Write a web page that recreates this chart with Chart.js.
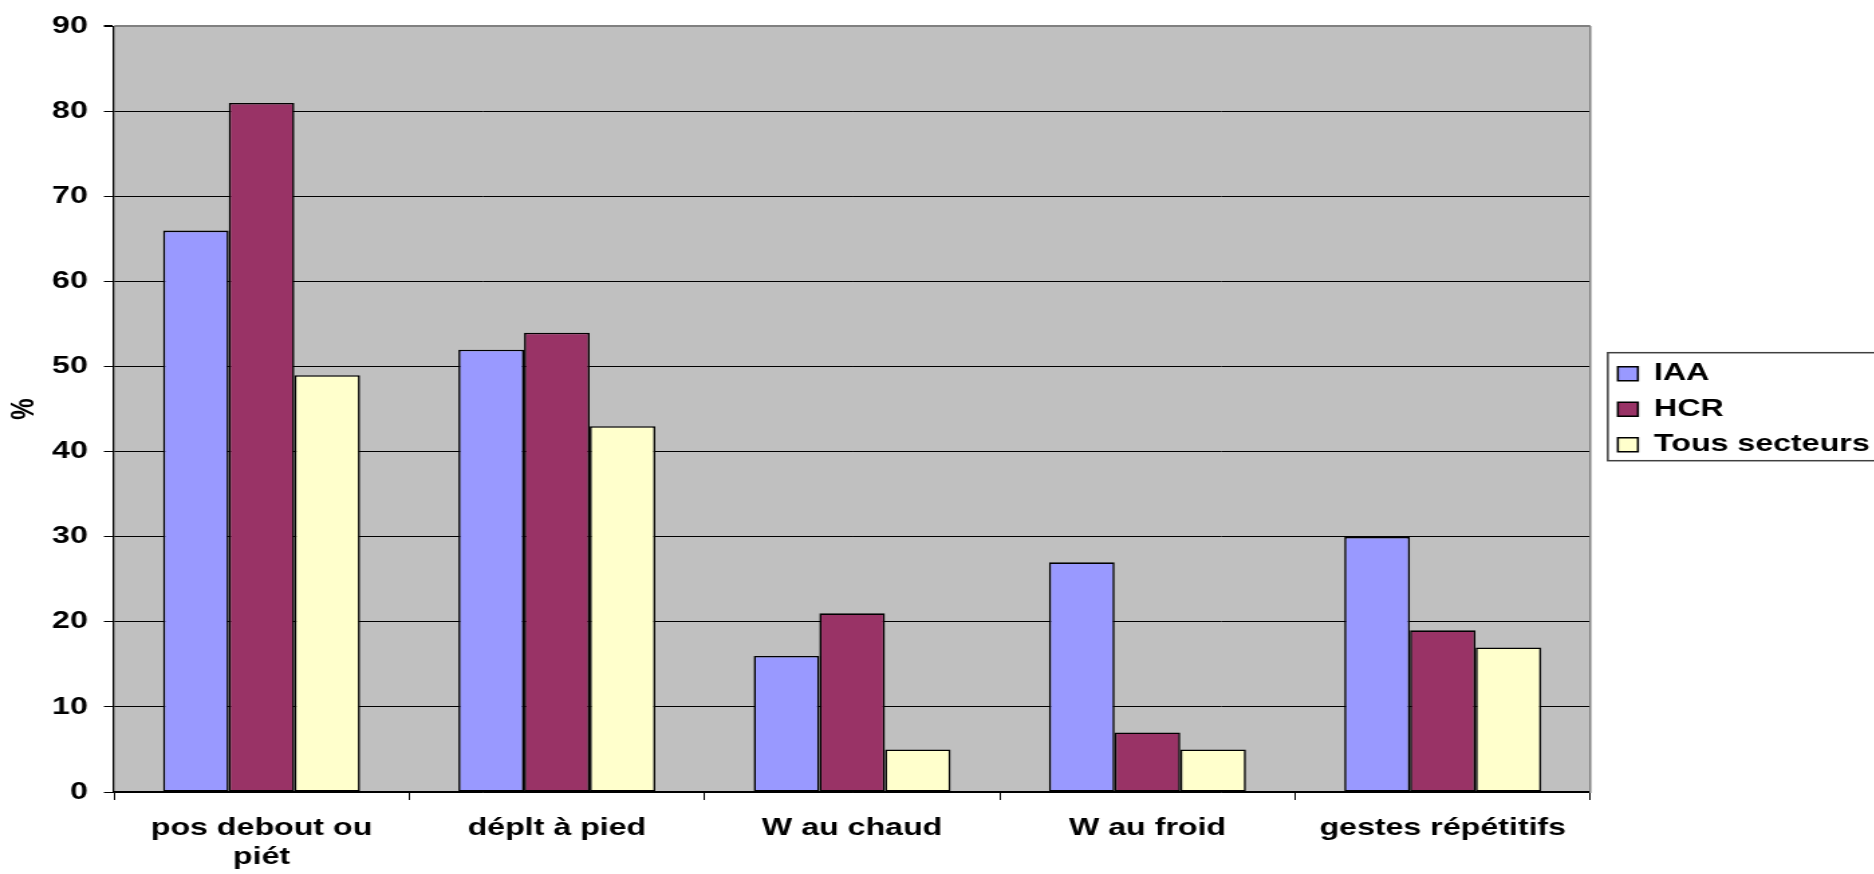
<!DOCTYPE html>
<html>
<head>
<meta charset="utf-8">
<script src="https://cdn.jsdelivr.net/npm/chart.js@4"></script>
<style>
    html, body { margin: 0; padding: 0; background: #fff; overflow: hidden; }
    body { width: 1874px; height: 874px; }
    /* the chart is laid out narrow and widened on screen, so the bold type reads broad */
    #metricsChart { display: block; transform: scaleX(1.34); transform-origin: 0 0; }
</style>
</head>
<body>
<canvas id="metricsChart" width="1420" height="874"></canvas>
<script>
// Contraintes physiques par secteur (%)
const categories = [
    ['pos debout ou', 'piét'],
    'déplt à pied',
    'W au chaud',
    'W au froid',
    'gestes répétitifs'
];
const seriesNames = ['IAA', 'HCR', 'Tous secteurs'];
const iaaValues = [66, 52, 16, 27, 30];
const hcrValues = [81, 54, 21, 7, 19];
const tousValues = [49, 43, 5, 5, 17];
const yTicks = [0, 10, 20, 30, 40, 50, 60, 70, 80, 90];

const seriesColors = ['#9999FF', '#993366', '#FFFFCC'];

Chart.defaults.font.family = '"Liberation Sans", Arial, sans-serif';
Chart.defaults.font.weight = 'bold';
Chart.defaults.color = '#000';

// grey plot background, legend centred on the plot, and a frame round the legend
const plotFrame = {
    id: 'plotFrame',
    afterLayout(chart) {
        const lg = chart.legend;
        if (!lg) return;
        lg.top = chart.chartArea.top;
        lg.bottom = chart.chartArea.bottom;
        lg.height = lg.bottom - lg.top;
    },
    beforeDraw(chart) {
        const { ctx, chartArea: a } = chart;
        ctx.save();
        ctx.fillStyle = '#C0C0C0';
        ctx.fillRect(a.left, a.top, a.right - a.left, a.bottom - a.top);
        ctx.restore();
    },
    afterDraw(chart) {
        const lg = chart.legend;
        if (!lg || !lg.legendHitBoxes.length) return;
        const boxes = lg.legendHitBoxes;
        const left = boxes[0].left - 7.5;
        const top = boxes[0].top - 9;
        const bottom = boxes[boxes.length - 1].top + 28;
        const ctx = chart.ctx;
        ctx.save();
        ctx.strokeStyle = '#404040';
        ctx.lineWidth = 1.5;
        ctx.strokeRect(left, top, chart.width, bottom - top);
        ctx.restore();
    }
};

const ctx = document.getElementById('metricsChart').getContext('2d');

new Chart(ctx, {
    type: 'bar',
    data: {
        labels: categories,
        datasets: [iaaValues, hcrValues, tousValues].map((vals, i) => ({
            label: seriesNames[i],
            data: vals,
            backgroundColor: seriesColors[i],
            borderColor: '#000',
            borderWidth: 1.6,
            borderSkipped: false,
            categoryPercentage: 0.667,
            barPercentage: 1.0
        }))
    },
    options: {
        responsive: false,
        maintainAspectRatio: false,
        devicePixelRatio: 1,
        animation: false,
        layout: { padding: { top: 20, right: 14.7, bottom: 0, left: 0 } },
        plugins: {
            tooltip: { enabled: false },
            legend: {
                position: 'right',
                align: 'center',
                labels: {
                    boxWidth: 15,
                    boxHeight: 14,
                    padding: 11.5,
                    font: { size: 24, weight: 'bold' }
                }
            }
        },
        scales: {
            x: {
                grid: {
                    offset: true,
                    drawOnChartArea: false,
                    drawTicks: true,
                    tickLength: 8,
                    tickColor: '#000',
                    lineWidth: 1
                },
                border: { display: true, color: '#000', width: 1.5 },
                ticks: {
                    padding: 14,
                    font: { size: 24, weight: 'bold' },
                    maxRotation: 0,
                    autoSkip: false
                },
                afterFit: (scale) => { scale.height = 82; }
            },
            y: {
                min: 0,
                max: 90,
                afterBuildTicks: (scale) => {
                    scale.ticks = yTicks.map(v => ({ value: v }));
                },
                grid: {
                    color: (c) => c.tick && c.tick.value === 90 ? '#808080' : '#000',
                    lineWidth: (c) => c.tick && c.tick.value === 90 ? 2 : 1,
                    tickColor: '#000',
                    tickLength: 7.5
                },
                border: { display: true, color: '#000', width: 1.3 },
                ticks: {
                    padding: 12,
                    font: { size: 24, weight: 'bold' }
                },
                title: {
                    display: true,
                    text: '%',
                    padding: { top: 4, bottom: 4 },
                    font: { size: 24, weight: 'bold' }
                },
                afterFit: (scale) => { scale.width = 85; }
            },
            // spacer between plot and legend; its border is the plot's right edge
            yEdge: {
                type: 'linear',
                position: 'right',
                display: true,
                grid: { display: false },
                ticks: { display: false },
                border: { display: true, color: '#808080', width: 1.5 },
                afterFit: (scale) => { scale.width = 9; }
            }
        }
    },
    plugins: [plotFrame]
});
</script>
</body>
</html>
